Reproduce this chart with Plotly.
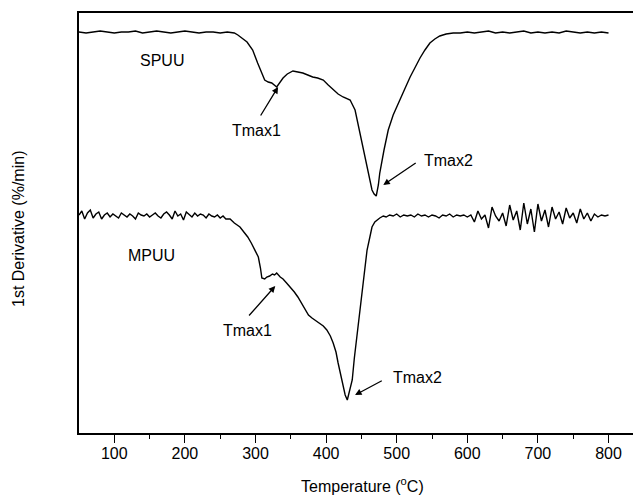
import plotly.graph_objects as go

# ---------------- data ----------------
spuu_T = [50, 60, 70, 80, 90, 100, 110, 120, 130, 140, 150, 160, 170, 180, 190, 200,
          210, 220, 230, 240, 250, 260, 270,
          275, 288, 296, 303, 313, 318, 323, 330, 335, 339, 345, 353, 360, 367, 374,
          381, 388, 396, 403, 410, 417, 424, 430, 434, 441, 448, 453, 458, 462, 465,
          468, 471, 474, 476, 482, 488, 495, 505, 512, 519, 526, 533, 540, 547, 554,
          561, 570, 580,
          590, 600, 610, 620, 630, 640, 650, 660, 670, 680, 690, 700, 710, 720, 730,
          740, 750, 760, 770, 780, 790, 800]
spuu_v = [401, 400, 401, 402, 401, 400, 401, 401, 402, 400, 401, 402, 401, 400, 401, 402,
          401, 400, 401, 401, 400, 401, 400,
          398, 391, 383, 370, 353, 351, 350, 346, 351, 355, 359, 362, 361, 360, 358,
          356, 355, 353, 348, 343, 339, 336, 334, 333, 323, 300, 283, 266, 253, 243,
          239, 237, 248, 260, 283, 303, 318, 333, 345, 356, 366, 375, 383, 390, 394,
          397, 399, 400,
          400, 401, 400, 401, 402, 400, 401, 400, 401, 402, 400, 401, 400, 401, 400,
          402, 401, 400, 401, 400, 401, 400]

mpuu_T = [50, 54, 58, 62, 66, 70, 74, 78, 82, 86, 90, 94, 98, 102, 106, 110, 114, 118,
          122, 126, 130, 134, 138, 142, 146, 150, 154, 158, 162, 166, 170, 174, 178,
          182, 186, 190, 194, 198, 202, 206, 210, 214, 218, 222, 226, 230, 234, 238,
          242, 246, 250, 254, 258,
          264, 270, 278, 284, 289, 294, 299, 304, 307, 309, 313, 316, 320, 324, 327,
          330, 335, 339, 344, 349, 355, 360, 365, 370, 375, 380, 386, 391, 396, 401,
          406, 410, 414, 417, 421, 424, 427, 430, 433, 437, 440, 444, 448, 451, 455,
          458, 462, 465, 469, 472, 476, 481,
          485, 490, 495, 500, 505, 510, 515, 520, 525, 530, 535, 540, 545, 550, 555,
          560, 565, 570, 575, 580, 585, 590, 595, 600, 605, 610, 615, 620, 625, 630,
          635, 640, 645, 650, 655, 660, 665, 670, 675, 680, 685, 690, 695, 700, 705,
          710, 715, 720, 725, 730, 735, 740, 745, 750, 755, 760, 765, 770, 775, 780,
          785, 790, 795, 800]
mpuu_v = [218, 222, 214, 220, 223, 215, 219, 221, 214, 218, 220, 216, 219, 217, 215, 220,
          218, 216, 219, 217, 214, 220, 218, 217, 219, 216, 218, 220, 217, 215, 219,
          221, 218, 214, 222, 217, 219, 213, 221, 218, 216, 220, 217, 219, 218, 215,
          219, 217, 216, 218, 215, 217, 214,
          214, 210, 206, 201, 196, 190, 183, 176, 165, 155, 154, 156, 157, 159, 158,
          160, 156, 154, 150, 146, 141, 136, 130, 123, 118, 115, 112, 110, 107, 103,
          97, 90, 81, 70, 58, 46, 38, 33, 41, 53, 75, 100, 123, 143, 165,
          183, 196, 206, 211, 213, 215, 217,
          216, 218, 217, 219, 216, 218, 217, 218, 216, 219, 217, 218, 216, 218, 217,
          215, 218, 217, 219, 216, 218, 217, 218, 216, 218, 211, 222, 214, 218, 205,
          226, 217, 212, 220, 207, 228, 213, 222, 203, 230, 209, 224, 201, 229, 212,
          223, 206, 226, 214, 221, 209, 225, 215, 220, 210, 224, 214, 220, 212, 219,
          216, 218, 217, 218]

x_ticks = [100, 200, 300, 400, 500, 600, 700, 800]
x_tick_labels = ["100", "200", "300", "400", "500", "600", "700", "800"]

FONT = "Liberation Sans, Arial, sans-serif"

fig = go.Figure()
fig.add_trace(go.Scatter(x=spuu_T, y=spuu_v, mode="lines", name="SPUU",
                         line=dict(color="black", width=1.4)))
fig.add_trace(go.Scatter(x=mpuu_T, y=mpuu_v, mode="lines", name="MPUU",
                         line=dict(color="black", width=1.4)))

ann = []
# series labels
ann.append(dict(x=167, y=373, text="SPUU", showarrow=False, xref="x", yref="y"))
ann.append(dict(x=153, y=178, text="MPUU", showarrow=False, xref="x", yref="y"))
# peak labels
ann.append(dict(x=301, y=303, text="Tmax1", showarrow=False, xref="x", yref="y"))
ann.append(dict(x=573, y=273, text="Tmax2", showarrow=False, xref="x", yref="y"))
ann.append(dict(x=289, y=103, text="Tmax1", showarrow=False, xref="x", yref="y"))
ann.append(dict(x=530, y=56, text="Tmax2", showarrow=False, xref="x", yref="y"))
# arrows (tip -> tail)
for tip, tail in [((332, 346), (306, 316)), ((481, 248), (529, 271)),
                  ((328, 147), (289, 116)), ((441, 38), (481, 53))]:
    ann.append(dict(x=tip[0], y=tip[1], ax=tail[0], ay=tail[1], xref="x", yref="y",
                    axref="x", ayref="y", text="", showarrow=True, arrowhead=2,
                    arrowsize=1, arrowwidth=1.3, arrowcolor="black"))

# page has an 8px body margin; the figure is sized to fit the window
W, H = 633, 487
L, R, T, B = 71, 0, 5, 62
pw, ph = W - L - R, H - T - B
# axis titles (positions in page pixels converted to paper coordinates)
ann.append(dict(x=(362 - 8 - L) / pw, y=(H - B - (485 - 8)) / ph, xref="paper", yref="paper",
                text="Temperature (<sup>o</sup>C)", showarrow=False,
                xanchor="center", yanchor="middle"))
ann.append(dict(x=(19 - 8 - L) / pw, y=(H - B - (229 - 8)) / ph, xref="paper", yref="paper",
                text="1st Derivative (%/min)", showarrow=False, textangle=-90,
                xanchor="center", yanchor="middle"))

fig.update_layout(
    width=W, height=H,
    margin=dict(l=L, r=R, t=T, b=B),
    paper_bgcolor="white", plot_bgcolor="white",
    showlegend=False,
    font=dict(family=FONT, size=16, color="black"),
    annotations=ann,
    xaxis=dict(range=[50, 846], tickvals=x_ticks, ticktext=x_tick_labels,
               ticks="outside", ticklen=8, tickwidth=1.3, tickcolor="black",
               ticklabelstandoff=-3,
               showline=True, linecolor="black", linewidth=1.5, mirror=True,
               showgrid=False, zeroline=False,
               minor=dict(ticks="outside", ticklen=4, tickwidth=1.3, tickcolor="black",
                          tickvals=[150, 250, 350, 450, 550, 650, 750], showgrid=False),
               tickfont=dict(family=FONT, size=16, color="black")),
    yaxis=dict(range=[0, 420], showticklabels=False, ticks="",
               showline=True, linecolor="black", linewidth=1.5, mirror=False,
               showgrid=False, zeroline=False),
)

fig.write_html("out.html")
